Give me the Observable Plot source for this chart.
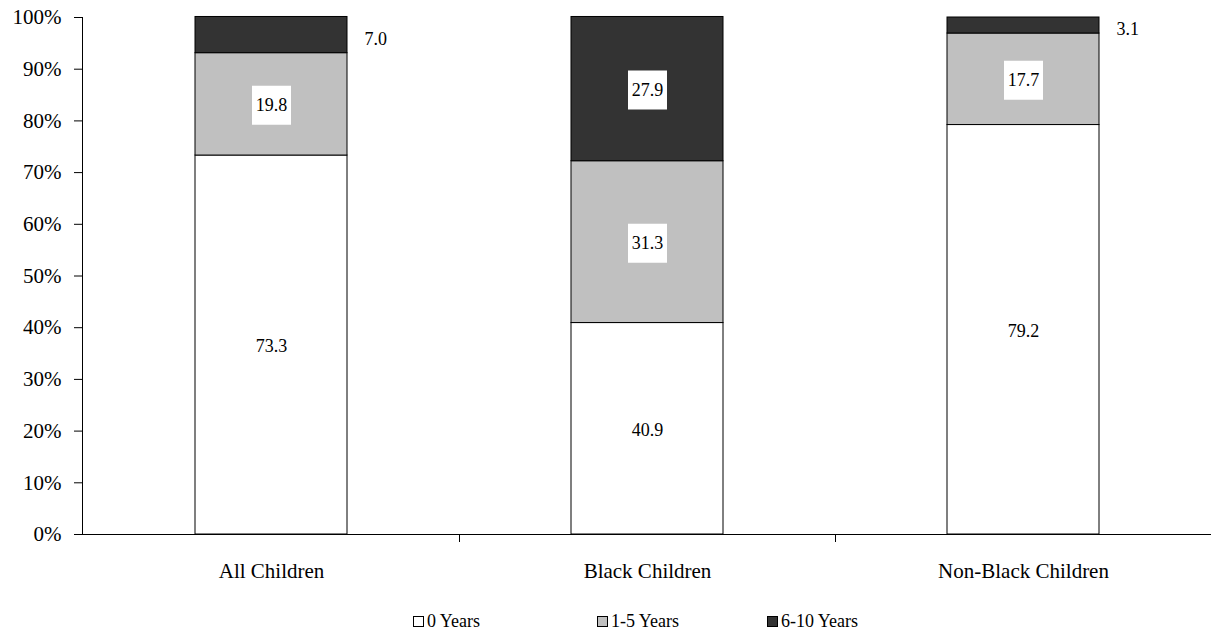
<!DOCTYPE html>
<html>
<head>
<meta charset="utf-8">
<script src="https://cdn.jsdelivr.net/npm/d3@7"></script>
<script src="https://cdn.jsdelivr.net/npm/@observablehq/plot@0.6"></script>
<style>
  body { margin: 0; background: #fff; font-family: "Liberation Serif", "Times New Roman", serif; }
  #legend { display: flex; align-items: center; height: 20px; margin-top: 21px; padding-left: 413px; font-size: 18px; color: #000; }
  #legend .item { display: flex; align-items: center; white-space: nowrap; }
  #legend .swatch { width: 11px; height: 11px; border: 1px solid #000; margin-right: 3px; box-sizing: border-box; }
</style>
</head>
<body>
<div id="chart"></div>
<div id="legend"></div>
<script>
// Share of children by years spent in the category
const groups = ["All Children", "Black Children", "Non-Black Children"];
const durations = ["0 Years", "1-5 Years", "6-10 Years"];
const zeroYears = [73.3, 40.9, 79.2];
const oneToFiveYears = [19.8, 31.3, 17.7];
const sixToTenYears = [7.0, 27.9, 3.1];
const yTicks = [0, 10, 20, 30, 40, 50, 60, 70, 80, 90, 100];
const shades = ["#ffffff", "#c0c0c0", "#333333"];

const series = [zeroYears, oneToFiveYears, sixToTenYears];
const rows = groups.flatMap((group, i) =>
  durations.map((duration, j) => ({group, duration, value: series[j][i]}))
);

const stackOpts = {x: "group", y: "value", z: "duration"};
const label = d => d.value.toFixed(1);

const plot = Plot.plot({
  width: 1211,
  height: 590,
  marginTop: 17,
  marginBottom: 56,
  marginLeft: 82,
  marginRight: 0,
  style: {fontFamily: "'Liberation Serif', 'Times New Roman', serif", fontSize: "21px", color: "#000", background: "#fff"},
  x: {domain: groups, paddingInner: 0.597, paddingOuter: 0.2985, label: null, tickSize: 0, tickPadding: 29},
  y: {domain: [0, 100], ticks: yTicks, tickFormat: d => d + "%", label: null, tickSize: 8, tickPadding: 13},
  color: {domain: durations, range: shades},
  marks: [
    Plot.barY(rows, Plot.stackY({...stackOpts, fill: "duration", stroke: "#000", strokeWidth: 1})),
    Plot.ruleY([0], {stroke: "#000", strokeWidth: 1}),
    // white label boxes inside the segments
    Plot.dot(rows, Plot.filter(d => d.value >= 10, Plot.stackY({...stackOpts, symbol: "square", r: 22, fill: "#fff", stroke: "none", dy: 1}))),
    Plot.text(rows, Plot.filter(d => d.value >= 10, Plot.stackY({...stackOpts, text: label, fontSize: 18, fill: "#000", dy: 1}))),
    // small segments are labelled beside the bar
    Plot.text(rows, Plot.filter(d => d.value < 10, Plot.stackY({...stackOpts, text: label, fontSize: 18, fill: "#000", textAnchor: "start", dx: 93, dy: 4})))
  ]
});

// vertical axis line and category separator ticks
const xs = plot.scale("x"), ys = plot.scale("y");
const svg = d3.select(plot);
const [yBottom, yTop] = ys.range;
const xLeft = xs.range[0];
svg.append("line")
  .attr("x1", xLeft + 0.5).attr("x2", xLeft + 0.5)
  .attr("y1", yTop).attr("y2", yBottom)
  .attr("stroke", "#000");
groups.slice(1).forEach(g => {
  const xSep = xs.apply(g) - (xs.step - xs.bandwidth) / 2;
  svg.append("line")
    .attr("x1", Math.round(xSep) + 0.5).attr("x2", Math.round(xSep) + 0.5)
    .attr("y1", yBottom).attr("y2", yBottom + 8)
    .attr("stroke", "#000");
});

document.getElementById("chart").appendChild(plot);

// legend
const widths = [184, 170, null];
const legend = d3.select("#legend");
durations.forEach((d, i) => {
  const item = legend.append("div").attr("class", "item");
  if (widths[i]) item.style("width", widths[i] + "px");
  item.append("div").attr("class", "swatch").style("background", shades[i]);
  item.append("span").text(d);
});
</script>
</body>
</html>
